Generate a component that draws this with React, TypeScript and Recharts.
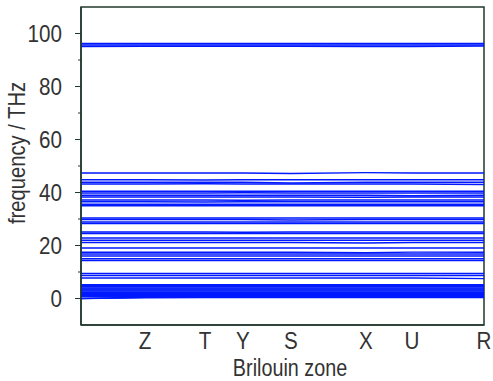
import { LineChart, Line, XAxis, YAxis, ReferenceArea } from "recharts";

// k-path (pixel-proportional distances along the Brillouin zone path)
const kLabels = ["", "Z", "T", "Y", "S", "X", "U", "R"];
const kDist = [0, 64, 124, 162, 210, 285, 331, 403];

const yTicks = [-10, 0, 10, 20, 30, 40, 50, 60, 70, 80, 90, 100, 110];

// phonon branches, frequency (THz) at Γ Z T Y S X U R
const highBands = [
  [96.2, 96.2, 96.2, 96.2, 96.2, 96.2, 96.2, 96.2],
  [95.7, 95.7, 95.7, 95.7, 95.7, 95.7, 95.7, 95.7],
  [95.1, 95.2, 95.2, 95.2, 95.2, 95.1, 95.1, 95.3],
];

const midBands = [
  [47.4, 47.4, 47.4, 47.4, 47.2, 47.5, 47.4, 47.4],
  [44.8, 44.8, 44.7, 44.8, 44.8, 44.8, 44.8, 44.8],
  [43.9, 43.9, 43.9, 43.9, 43.6, 43.9, 43.9, 43.9],
  [43.2, 43.2, 43.3, 43.2, 43.2, 43.2, 43.2, 43.0],
  [40.5, 40.5, 40.5, 40.5, 40.5, 40.5, 40.5, 40.5],
  [39.8, 39.8, 39.8, 39.9, 39.8, 39.8, 39.8, 39.8],
  [39.0, 39.0, 39.0, 39.0, 39.0, 39.0, 38.8, 39.0],
  [38.3, 38.3, 38.3, 38.3, 38.3, 38.2, 38.3, 38.3],
  [37.2, 37.2, 37.2, 37.1, 37.2, 37.2, 37.2, 37.2],
  [36.5, 36.5, 36.4, 36.5, 36.5, 36.5, 36.5, 36.5],
  [35.6, 35.6, 35.6, 35.6, 35.6, 35.6, 35.6, 35.6],
  [35.0, 35.0, 35.0, 35.0, 35.0, 35.0, 35.0, 35.0],
  [30.4, 30.4, 30.4, 30.4, 30.4, 30.4, 30.4, 30.4],
  [29.8, 29.8, 29.8, 29.8, 29.6, 29.8, 29.8, 29.8],
  [28.9, 28.9, 28.9, 28.9, 28.9, 28.9, 28.9, 28.9],
  [28.3, 28.3, 28.3, 28.3, 28.3, 28.3, 28.3, 28.3],
];

const lowBands = [
  [25.1, 25.1, 25.1, 25.0, 25.1, 25.1, 25.1, 25.1],
  [24.5, 24.5, 24.5, 24.5, 24.5, 24.5, 24.5, 24.5],
  [22.8, 22.8, 22.8, 22.8, 22.8, 22.8, 22.8, 22.8],
  [22.0, 22.0, 22.0, 22.0, 22.0, 22.0, 22.0, 22.0],
  [21.1, 21.1, 21.1, 21.1, 21.1, 20.9, 21.1, 21.1],
  [19.1, 19.1, 19.1, 19.1, 19.1, 19.1, 19.1, 19.1],
  [17.5, 17.5, 17.5, 17.5, 17.5, 17.3, 17.5, 17.5],
  [16.8, 16.8, 16.8, 16.8, 16.8, 16.8, 16.8, 16.8],
  [16.0, 16.0, 16.0, 16.0, 16.0, 16.0, 16.0, 16.0],
  [15.0, 15.0, 15.0, 15.0, 15.0, 15.0, 15.0, 15.0],
  [14.3, 14.3, 14.3, 14.3, 14.3, 14.3, 14.3, 14.3],
  [9.4, 9.4, 9.4, 9.4, 9.4, 9.4, 9.4, 9.4],
  [8.7, 8.7, 8.7, 8.7, 8.7, 8.7, 8.7, 8.7],
  [7.7, 7.7, 7.7, 7.7, 7.7, 7.7, 7.7, 7.5],
];

const acousticBands = [
  [5.2, 5.2, 5.2, 5.2, 5.2, 5.2, 5.2, 5.2],
  [4.8, 4.8, 4.8, 4.8, 4.8, 4.8, 4.8, 4.8],
  [4.4, 4.4, 4.4, 4.4, 4.4, 4.4, 4.4, 4.4],
  [4.0, 4.0, 4.0, 4.0, 4.0, 4.0, 4.0, 4.0],
  [3.6, 3.6, 3.6, 3.6, 3.6, 3.6, 3.6, 3.6],
  [3.2, 3.2, 3.2, 3.2, 3.2, 3.2, 3.2, 3.2],
  [2.8, 2.8, 2.8, 2.8, 2.8, 2.8, 2.8, 2.8],
  [2.4, 2.4, 2.4, 2.4, 2.4, 2.4, 2.4, 2.4],
  [2.0, 2.0, 2.0, 2.0, 2.0, 2.0, 2.0, 2.0],
  [1.6, 1.6, 1.6, 1.6, 1.6, 1.6, 1.6, 1.6],
  [1.2, 1.2, 1.2, 1.2, 1.2, 1.2, 1.2, 1.2],
  [0.8, 0.8, 0.8, 0.8, 0.8, 0.8, 0.8, 0.8],
  [0.0, 0.5, 0.6, 0.6, 0.6, 0.6, 0.6, 0.6],
  [0.0, 0.3, 0.4, 0.4, 0.4, 0.4, 0.4, 0.4],
];

const bands = [...highBands, ...midBands, ...lowBands, ...acousticBands];

const data = kDist.map((k, i) => {
  const row: Record<string, number> = { k };
  bands.forEach((b, j) => {
    row[`b${j}`] = b[i];
  });
  return row;
});

const FONT = "'Liberation Sans', Arial, sans-serif";
const TEXT = "#333";
const FRAME = "#223a2c";
const BLUE = "#0019ff";
// the original lettering is a condensed sans; squeeze it horizontally
const SQUEEZE = "scale(0.86 1)";

function YTick(props: any) {
  const { x, y, payload } = props;
  const v = payload.value;
  if (v === -10 || v === 110) return <g />;
  const major = v % 20 === 0;
  return (
    <g>
      <line x1={x - (major ? 6 : 3)} x2={x} y1={y} y2={y} stroke={FRAME} strokeWidth={1} />
      {major && (
        <text
          transform={`translate(${x - 19} ${y + 8.5}) ${SQUEEZE}`}
          textAnchor="end"
          fontSize={24}
          fill={TEXT}
          fontFamily={FONT}
        >
          {v}
        </text>
      )}
    </g>
  );
}

function XTick(props: any) {
  const { x, payload } = props;
  const label = kLabels[kDist.indexOf(payload.value)] ?? "";
  return (
    <text
      transform={`translate(${x} 349) ${SQUEEZE}`}
      textAnchor="middle"
      fontSize={24}
      fill={TEXT}
      fontFamily={FONT}
    >
      {label}
    </text>
  );
}

export default function App() {
  return (
    <div style={{ position: "absolute", left: 0, top: 0, width: 493, height: 381, background: "#fff" }}>
      <LineChart
        width={493}
        height={381}
        data={data}
        margin={{ top: 7, right: 9, bottom: 0, left: 0 }}
      >
        <XAxis
          dataKey="k"
          type="number"
          domain={[0, 403]}
          ticks={kDist}
          interval={0}
          tickLine={false}
          axisLine={{ stroke: FRAME, strokeWidth: 1.5 }}
          height={56}
          tick={<XTick />}
          label={{
            content: () => (
              <text
                transform={`translate(290 376) ${SQUEEZE}`}
                textAnchor="middle"
                fontSize={23}
                fill={TEXT}
                fontFamily={FONT}
              >
                Brilouin zone
              </text>
            ),
          }}
        />
        <YAxis
          type="number"
          domain={[-10, 110]}
          ticks={yTicks}
          interval={0}
          width={81}
          tickSize={0}
          tickMargin={0}
          tickLine={false}
          axisLine={{ stroke: FRAME, strokeWidth: 1.5 }}
          tick={<YTick />}
          label={{
            content: () => (
              <text
                transform={`translate(25 153) rotate(-90) ${SQUEEZE}`}
                textAnchor="middle"
                fontSize={23.5}
                fill={TEXT}
                fontFamily={FONT}
              >
                frequency / THz
              </text>
            ),
          }}
        />
        <ReferenceArea x1={0} x2={403} y1={-10} y2={110} fill="none" stroke={FRAME} strokeWidth={1.5} />
        {bands.map((_, j) => (
          <Line
            key={j}
            dataKey={`b${j}`}
            type="linear"
            stroke={BLUE}
            strokeWidth={1.5}
            dot={false}
            activeDot={false}
            isAnimationActive={false}
          />
        ))}
      </LineChart>
    </div>
  );
}
